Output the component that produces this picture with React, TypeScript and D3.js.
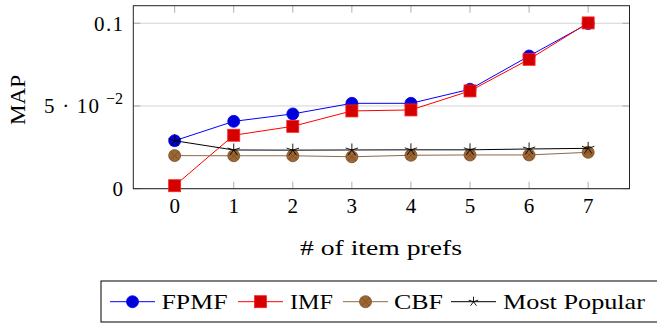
import React, { useEffect, useRef } from 'react';
import * as d3 from 'd3';

const prefs = [0, 1, 2, 3, 4, 5, 6, 7];
const fpmf = [0.029, 0.0407, 0.0452, 0.0516, 0.0516, 0.0601, 0.0802, 0.0998];
const imf = [0.0018, 0.0323, 0.0377, 0.047, 0.0476, 0.0591, 0.0782, 0.1002];
const cbf = [0.02, 0.0199, 0.0199, 0.0193, 0.0202, 0.0204, 0.0204, 0.022];
const mostPopular = [0.029, 0.0234, 0.0233, 0.0234, 0.0235, 0.0235, 0.024, 0.0244];
const seriesNames = ['FPMF', 'IMF', 'CBF', 'Most Popular'];

const W = 657;
const H = 327;
const FONT = '"Liberation Serif", "DejaVu Serif", serif';

const App: React.FC = () => {
  const svgRef = useRef<SVGSVGElement>(null);

  useEffect(() => {
    if (!svgRef.current) return;
    d3.select(svgRef.current).selectAll('*').remove();
    const svg = d3.select(svgRef.current);

    const left = 133.3, right = 629.5, top = 5.7, bottom = 188.7;
    const x = d3.scaleLinear().domain([-0.7, 7.7]).range([left, right]);
    const y = d3.scaleLinear().domain([0, 0.1106]).range([bottom, top]);

    const yTicks = [0, 0.05, 0.1];

    // grid
    svg.append('g').selectAll('line').data(yTicks).enter().append('line')
      .attr('x1', left).attr('x2', right)
      .attr('y1', d => y(d)).attr('y2', d => y(d))
      .attr('stroke', '#c8c8c8').attr('stroke-width', 0.8);

    // ticks (inside, top and bottom)
    const tk = svg.append('g').attr('stroke', '#999').attr('stroke-width', 0.8);
    prefs.forEach(p => {
      tk.append('line').attr('x1', x(p)).attr('x2', x(p)).attr('y1', bottom).attr('y2', bottom - 7);
      tk.append('line').attr('x1', x(p)).attr('x2', x(p)).attr('y1', top).attr('y2', top + 7);
    });
    yTicks.forEach(t => {
      tk.append('line').attr('x1', left).attr('x2', left + 7).attr('y1', y(t)).attr('y2', y(t));
      tk.append('line').attr('x1', right).attr('x2', right - 7).attr('y1', y(t)).attr('y2', y(t));
    });

    // frame
    svg.append('rect').attr('x', left).attr('y', top)
      .attr('width', right - left).attr('height', bottom - top)
      .attr('fill', 'none').attr('stroke', '#222').attr('stroke-width', 1);

    // tick labels
    const xl = svg.append('g').attr('font-family', FONT).attr('font-size', 21).attr('fill', '#000');
    prefs.forEach(p => {
      xl.append('text').attr('x', x(p)).attr('y', 213).attr('text-anchor', 'middle').text(String(p));
    });
    const yl = svg.append('g').attr('font-family', FONT).attr('font-size', 21).attr('fill', '#000');
    yl.append('text').attr('x', 123).attr('y', y(0) + 7).attr('text-anchor', 'end').text('0');
    yl.append('text').attr('x', 123).attr('y', y(0.1) + 7.5)
      .attr('text-anchor', 'end').attr('textLength', 29).attr('lengthAdjust', 'spacing').text('0.1');
    yl.append('text').attr('x', 44).attr('y', y(0.05) + 7.5)
      .attr('textLength', 55).attr('lengthAdjust', 'spacing').text('5 · 10');
    yl.append('text').attr('x', 123).attr('y', y(0.05) - 2).attr('font-size', 16)
      .attr('text-anchor', 'end').text('−2');

    // axis labels
    svg.append('text').attr('x', 300).attr('y', 255)
      .attr('textLength', 162).attr('lengthAdjust', 'spacingAndGlyphs')
      .attr('font-family', FONT).attr('font-size', 22).text('# of item prefs');
    svg.append('text').attr('transform', 'translate(25,125) rotate(-90)')
      .attr('textLength', 50).attr('lengthAdjust', 'spacingAndGlyphs')
      .attr('font-family', FONT).attr('font-size', 22).text('MAP');

    const line = d3.line<number>().x((_, i) => x(prefs[i])).y(d => y(d));

    const circle = (g: any, cx: number, cy: number, fill: string, stroke: string) =>
      g.append('circle').attr('cx', cx).attr('cy', cy).attr('r', 6).attr('fill', fill).attr('stroke', stroke).attr('stroke-width', 0.8);
    const square = (g: any, cx: number, cy: number) =>
      g.append('rect').attr('x', cx - 6).attr('y', cy - 6).attr('width', 12).attr('height', 12)
        .attr('fill', '#d40000').attr('stroke', '#ff2020').attr('stroke-width', 0.8);
    const otimes = (g: any, cx: number, cy: number) => {
      circle(g, cx, cy, '#9b6633', '#7a4f26');
      const r = 4.2;
      g.append('path').attr('d', `M${cx - r},${cy - r}L${cx + r},${cy + r}M${cx - r},${cy + r}L${cx + r},${cy - r}`)
        .attr('stroke', '#6b4420').attr('stroke-width', 0.6);
    };
    const star = (g: any, cx: number, cy: number, r: number) => {
      let d = '';
      for (let k = 0; k < 5; k++) {
        const a = -Math.PI / 2 + (k * 2 * Math.PI) / 5;
        d += `M${cx},${cy}L${cx + r * Math.cos(a)},${cy + r * Math.sin(a)}`;
      }
      g.append('path').attr('d', d).attr('stroke', '#000').attr('stroke-width', 0.9).attr('fill', 'none');
    };

    // FPMF
    const g1 = svg.append('g');
    g1.append('path').attr('d', line(fpmf)).attr('fill', 'none').attr('stroke', '#0000ff').attr('stroke-width', 1);
    fpmf.forEach((v, i) => circle(g1, x(prefs[i]), y(v), '#0000d8', '#0000ff'));

    // IMF
    const g2 = svg.append('g');
    g2.append('path').attr('d', line(imf)).attr('fill', 'none').attr('stroke', '#ff0000').attr('stroke-width', 1);
    imf.forEach((v, i) => square(g2, x(prefs[i]), y(v)));

    // CBF
    const g3 = svg.append('g');
    g3.append('path').attr('d', line(cbf)).attr('fill', 'none').attr('stroke', '#8a6a4a').attr('stroke-width', 1);
    cbf.forEach((v, i) => otimes(g3, x(prefs[i]), y(v)));

    // Most Popular
    const g4 = svg.append('g');
    g4.append('path').attr('d', line(mostPopular)).attr('fill', 'none').attr('stroke', '#000').attr('stroke-width', 1);
    mostPopular.forEach((v, i) => star(g4, x(prefs[i]), y(v), 6.5));

    // legend
    const lg = svg.append('g');
    lg.append('rect').attr('x', 101).attr('y', 281).attr('width', 560).attr('height', 41)
      .attr('fill', '#fff').attr('stroke', '#000').attr('stroke-width', 1);
    const ly = 301.7;
    const entries = [
      { x0: 110, tx: 161.5, tw: 66 },
      { x0: 238, tx: 290, tw: 43 },
      { x0: 343, tx: 394, tw: 49 },
      { x0: 451, tx: 503, tw: 142 },
    ];
    const colors = ['#0000ff', '#ff0000', '#8a6a4a', '#000'];
    entries.forEach((e, i) => {
      lg.append('line').attr('x1', e.x0).attr('x2', e.x0 + 45).attr('y1', ly).attr('y2', ly)
        .attr('stroke', colors[i]).attr('stroke-width', 1);
      const cx = e.x0 + 22.5;
      if (i === 0) circle(lg, cx, ly, '#0000d8', '#0000ff');
      if (i === 1) square(lg, cx, ly);
      if (i === 2) otimes(lg, cx, ly);
      if (i === 3) star(lg, cx, ly, 5);
      lg.append('text').attr('x', e.tx).attr('y', 308.5).attr('font-family', FONT).attr('font-size', 22)
        .attr('textLength', e.tw).attr('lengthAdjust', 'spacingAndGlyphs')
        .text(seriesNames[i]);
    });
  }, []);

  return (
    <div style={{ position: 'absolute', left: 0, top: 0 }}>
      <svg ref={svgRef} width={W} height={H} style={{ display: 'block', background: '#fff' }}></svg>
    </div>
  );
};

export default App;
